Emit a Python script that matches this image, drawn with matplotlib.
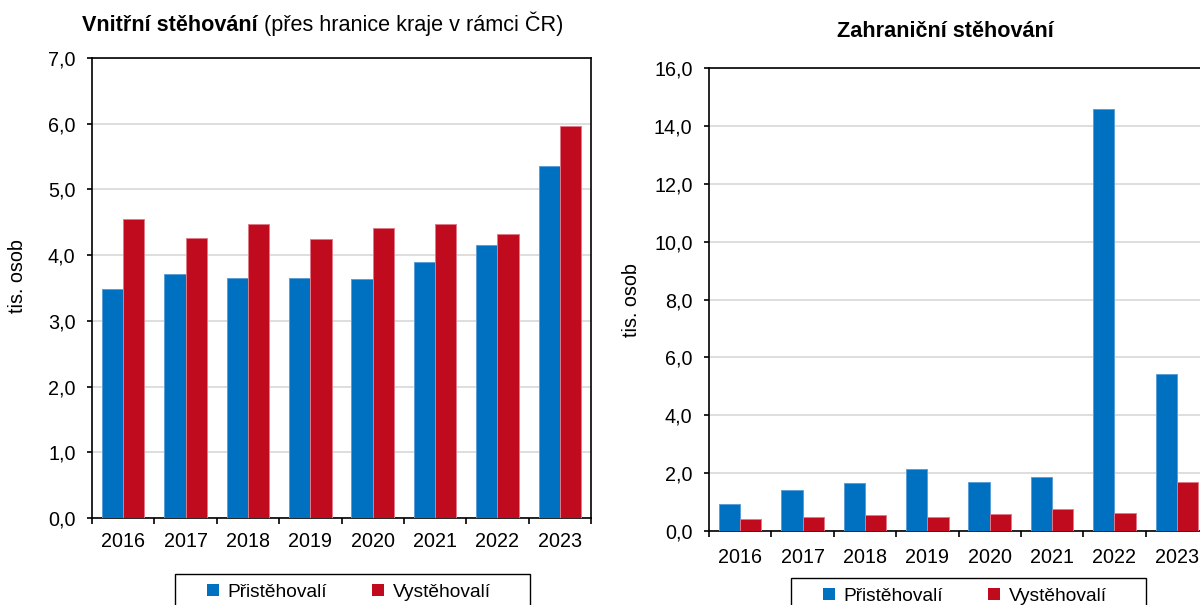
import numpy as np
import matplotlib
matplotlib.use("Agg")
import matplotlib.pyplot as plt
from matplotlib.lines import Line2D
from matplotlib.patches import Rectangle
from matplotlib.ticker import FuncFormatter, FixedLocator

plt.rcParams['font.family'] = ['Liberation Sans', 'DejaVu Sans']

# Data (tis. osob)
years = ['2016', '2017', '2018', '2019', '2020', '2021', '2022', '2023']
vnitrni_prist = [3.48, 3.71, 3.65, 3.65, 3.63, 3.89, 4.15, 5.36]
vnitrni_vyst = [4.55, 4.26, 4.48, 4.24, 4.42, 4.48, 4.32, 5.97]
zahr_prist = [0.93, 1.40, 1.67, 2.13, 1.69, 1.87, 14.58, 5.44]
zahr_vyst = [0.41, 0.47, 0.55, 0.49, 0.60, 0.77, 0.62, 1.68]
series_names = ['Přistěhovalí', 'Vystěhovalí']

BLUE = '#0070C0'
RED = '#C00A1E'
W, H = 1200, 605
FS = 14.2

fig = plt.figure(figsize=(12, 6.05), dpi=100)


def px(x0, y0, x1, y1):
    # pixel box -> figure fraction [left, bottom, width, height]
    return [x0 / W, 1 - y1 / H, (x1 - x0) / W, (y1 - y0) / H]


def draw(ax, prist, vyst, ymax, step, xpad):
    x = np.arange(len(years))
    bw = 0.34
    ax.bar(x - bw / 2, prist, bw, color=BLUE, edgecolor='#5B9FD6', linewidth=0.7, zorder=3)
    ax.bar(x + bw / 2, vyst, bw, color=RED, edgecolor='#E07A88', linewidth=0.7, zorder=3)
    ax.set_xlim(-0.5, len(years) - 0.5)
    ax.set_ylim(0, ymax)
    ax.set_yticks(np.arange(0, ymax + 0.01, step))
    ax.yaxis.set_major_formatter(FuncFormatter(lambda v, p: f"{v:.1f}".replace('.', ',')))
    ax.set_xticks(x)
    ax.set_xticklabels(years)
    ax.xaxis.set_minor_locator(FixedLocator(np.arange(-0.5, len(years), 1.0)))
    ax.tick_params(axis='x', which='major', length=0, pad=xpad, labelsize=FS)
    ax.tick_params(axis='x', which='minor', length=4.3, width=1.2, direction='out')
    ax.tick_params(axis='y', length=3.6, width=1.2, pad=8.2, labelsize=FS)
    ax.yaxis.grid(True, color='#D4D4D4', linewidth=1.1)
    ax.set_axisbelow(True)
    for s in ax.spines.values():
        s.set_linewidth(1.2)
        s.set_color('black')


ax1 = fig.add_axes(px(92, 58, 591, 518))
draw(ax1, vnitrni_prist, vnitrni_vyst, 7.0, 1.0, 10)

ax2 = fig.add_axes(px(709, 68, 1208, 531))
draw(ax2, zahr_prist, zahr_vyst, 16.0, 2.0, 12.5)

# titles
t1 = fig.text(82 / W, 1 - 31 / H, 'Vnitřní stěhování', fontsize=15.6,
              fontweight='bold', ha='left', va='baseline')
fig.canvas.draw()
bb = t1.get_window_extent()
fig.text(bb.x1 / W, 1 - 31 / H, ' (přes hranice kraje v rámci ČR)', fontsize=15.6,
         ha='left', va='baseline')
fig.text(945.5 / W, 1 - 36.7 / H, 'Zahraniční stěhování', fontsize=15.6,
         fontweight='bold', ha='center', va='baseline')

# y labels
fig.text(17.5 / W, 1 - 276 / H, 'tis. osob', rotation=90, fontsize=FS,
         ha='center', va='center')
fig.text(632 / W, 1 - 300 / H, 'tis. osob', rotation=90, fontsize=FS,
         ha='center', va='center')

# legends
handles = [Line2D([], [], marker='s', ls='', color=BLUE, markersize=8, markeredgewidth=0),
           Line2D([], [], marker='s', ls='', color=RED, markersize=8, markeredgewidth=0)]
for dx, dy in [(0, 0), (616, 4)]:
    fig.add_artist(Rectangle(((175 + dx) / W, 1 - (574 + dy + 60) / H), 355 / W, 60 / H,
                             transform=fig.transFigure, fill=False,
                             edgecolor='black', linewidth=1.0))
    fig.legend(handles, series_names, ncol=2, frameon=False, fontsize=13.8,
               loc='center left', bbox_to_anchor=((203 + dx) / W, 1 - (592 + dy) / H),
               borderpad=0, borderaxespad=0, handlelength=1.0, handletextpad=0.25,
               columnspacing=2.2)

fig.savefig('out.png', dpi=100)
